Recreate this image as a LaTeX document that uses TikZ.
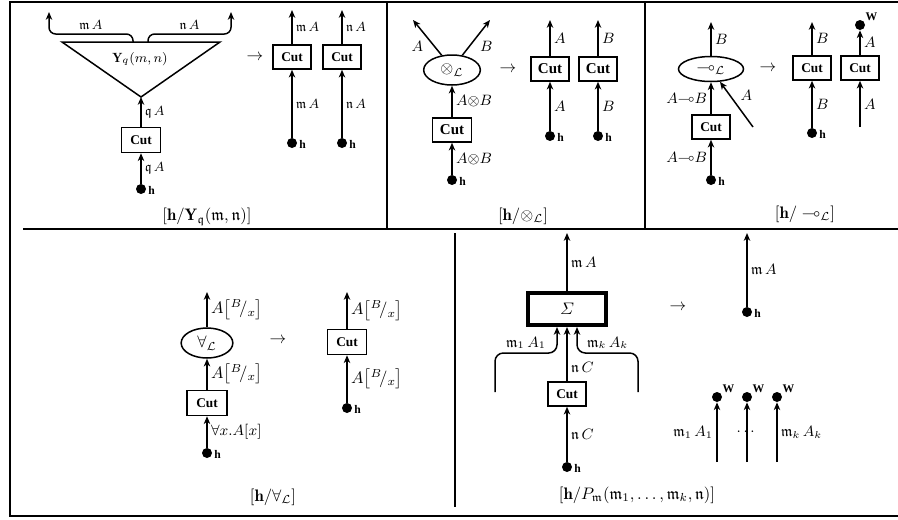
\documentclass[tikz,border=0pt]{standalone}
\usepackage{amsmath,amssymb}
\usepackage{fontspec}
\newfontfamily\cutfont{Liberation Serif}
\usetikzlibrary{positioning,arrows.meta,shapes.geometric,calc}
\tikzset{
  wire/.style={line width=0.9pt, -{Stealth[length=4.6pt,width=3.8pt,inset=1.3pt]}},
  frame/.style={line width=1.6pt},
  cutbox/.style={draw, line width=0.9pt, inner sep=0pt, minimum width=22.8pt, minimum height=14.4pt, font=\cutfont\bfseries\footnotesize},
  rulenode/.style={draw, ellipse, line width=0.9pt, inner sep=0pt},
  sumbox/.style={draw, line width=2.4pt, inner sep=0pt, minimum width=46.8pt, minimum height=19.2pt},
  hdot/.style={circle, fill=black, inner sep=0pt, minimum size=6pt,
    label={[font=\cutfont\bfseries\scriptsize, inner sep=1pt, yshift=-1pt]right:h}},
  wdot/.style={circle, fill=black, inner sep=0pt, minimum size=6pt,
    label={[font=\cutfont\bfseries\scriptsize, inner sep=0.5pt]35:W}},
  lab/.style={font=\small, inner sep=2pt},
  slab/.style={font=\footnotesize, inner sep=2pt},
  blab/.style={font=\normalsize, inner sep=2pt},
  capt/.style={font=\normalsize}
}

\begin{document}
\begin{tikzpicture}[x=0.6pt, y=-0.6pt]
  \useasboundingbox (0,0) rectangle (898,519);
  % frame and dividers
  \draw[frame] (900,2) -- (10,2) -- (10,516) -- (900,516);
  \draw[frame] (23,229) -- (900,229);
  \draw[frame] (387,2) -- (387,229);
  \draw[frame] (645,2) -- (645,229);
  \draw[frame] (455,233) -- (455,507);

  % [h/Y_q(m,n)]
  \coordinate (ytl) at (62,42);
  \coordinate (ytr) at (220,42);
  \coordinate (yapex) at (141,97);
  \coordinate (ybl) at (133,42);
  \coordinate (ybr) at (148,42);
  \coordinate (youtl) at (49,12);
  \coordinate (youtr) at (231,12);
  \draw[line width=0.9pt] (ytl) -- (ytr) -- (yapex) -- cycle;
  \node[font=\footnotesize] (ylab) at (140,59) {$\mathbf{Y}_q(m,n)$};
  \draw[wire, rounded corners=4pt] (ybl) -- ++(0,-8) -| node[slab, pos=0.25, above] {$\mathfrak{m}\,A$} (youtl);
  \draw[wire, rounded corners=4pt] (ybr) -- ++(0,-8) -| node[slab, pos=0.25, above] {$\mathfrak{n}\,A$} (youtr);
  \node[cutbox, minimum width=23.4pt, minimum height=15pt] (ycut) at (141,140) {Cut};
  \node[hdot] (yh) at (141,189) {};
  \draw[wire] (yh) -- node[slab, right] {$\mathfrak{q}\,A$} (ycut);
  \draw[wire] (ycut) -- node[slab, right] {$\mathfrak{q}\,A$} (yapex);
  \node (yto) at (255,57) {$\rightarrow$};
  \node[cutbox] (ycutm) at (292,57) {Cut};
  \node[cutbox] (ycutn) at (342,57) {Cut};
  \coordinate (youtm) at (292,10);
  \coordinate (youtn) at (342,10);
  \node[hdot] (yhm) at (292,143) {};
  \node[hdot] (yhn) at (342,143) {};
  \draw[wire] (ycutm) -- node[slab, right] {$\mathfrak{m}\,A$} (youtm);
  \draw[wire] (ycutn) -- node[slab, right] {$\mathfrak{n}\,A$} (youtn);
  \draw[wire] (yhm) -- node[slab, right] {$\mathfrak{m}\,A$} (ycutm);
  \draw[wire] (yhn) -- node[slab, right] {$\mathfrak{n}\,A$} (ycutn);
  \node[capt] (ycapt) at (207,217) {$[\mathbf{h}/\mathbf{Y}_{\mathfrak{q}}(\mathfrak{m},\mathfrak{n})]$};

  % [h/tensor_L]
  \node[rulenode, minimum width=34pt, minimum height=18pt] (tens) at (452,70) {$\otimes_{\mathcal{L}}$};
  \coordinate (touta) at (413,20);
  \coordinate (toutb) at (490,20);
  \draw[wire] (tens.125) -- node[lab, below left] {$A$} (touta);
  \draw[wire] (tens.55) -- node[lab, below right] {$B$} (toutb);
  \node[cutbox, minimum width=23.4pt, font=\cutfont\bfseries\small] (tcut) at (452,130) {Cut};
  \node[hdot] (th) at (452,180) {};
  \draw[wire] (th) -- node[lab, right] {$A{\otimes}B$} (tcut);
  \draw[wire] (tcut) -- node[lab, right] {$A{\otimes}B$} (tens);
  \node (tto) at (508,69) {$\rightarrow$};
  \node[cutbox, font=\cutfont\bfseries\small] (tcuta) at (550,69) {Cut};
  \node[cutbox, font=\cutfont\bfseries\small] (tcutb) at (598,69) {Cut};
  \coordinate (toutaa) at (550,20);
  \coordinate (toutbb) at (598,20);
  \node[hdot] (tha) at (550,136) {};
  \node[hdot] (thb) at (598,136) {};
  \draw[wire] (tcuta) -- node[lab, right] {$A$} (toutaa);
  \draw[wire] (tcutb) -- node[lab, right] {$B$} (toutbb);
  \draw[wire] (tha) -- node[lab, right] {$A$} (tcuta);
  \draw[wire] (thb) -- node[lab, right] {$B$} (tcutb);
  \node[capt] (tcapt) at (523,216) {$[\mathbf{h}/\otimes_{\mathcal{L}}]$};

  % [h/lolli_L]
  \node[rulenode, minimum width=39pt, minimum height=15pt] (lolli) at (711,69) {$\multimap_{\mathcal{L}}$};
  \coordinate (lout) at (711,22);
  \coordinate (lin) at (753,127);
  \draw[wire] (lolli) -- node[lab, right] {$B$} (lout);
  \node[cutbox] (lcut) at (711,127) {Cut};
  \node[hdot] (lh) at (711,180) {};
  \draw[wire] (lh) -- node[lab, left] {$A{\multimap}B$} (lcut);
  \draw[wire] (lcut) -- node[lab, left] {$A{\multimap}B$} (lolli);
  \draw[wire] (lin) -- node[lab, above right] {$A$} (lolli.-55);
  \node (lto) at (768,68) {$\rightarrow$};
  \node[cutbox] (lcutb) at (812,68) {Cut};
  \node[cutbox] (lcuta) at (860,68) {Cut};
  \coordinate (loutb) at (812,22);
  \node[hdot] (lhb) at (812,133) {};
  \node[wdot] (lw) at (860,25) {};
  \coordinate (lina) at (860,127);
  \draw[wire] (lcutb) -- node[lab, right] {$B$} (loutb);
  \draw[wire] (lhb) -- node[lab, right] {$B$} (lcutb);
  \draw[wire] (lcuta) -- node[lab, right] {$A$} (lw);
  \draw[wire] (lina) -- node[lab, right] {$A$} (lcuta);
  \node[capt] (lcapt) at (805,214) {$[\mathbf{h}/\multimap_{\mathcal{L}}]$};

  % [h/forall_L]
  \node[rulenode, minimum width=31pt, minimum height=18pt] (fa) at (207,343) {$\forall_{\mathcal{L}}$};
  \coordinate (faout) at (207,292);
  \draw[wire] (fa) -- node[blab, right] {$A\big[{}^{B}\!/{}_{x}\big]$} (faout);
  \node[cutbox, minimum width=24pt, minimum height=15pt] (facut) at (207,403) {Cut};
  \node[hdot] (fah) at (207,453) {};
  \draw[wire] (facut) -- node[blab, right] {$A\big[{}^{B}\!/{}_{x}\big]$} (fa);
  \draw[wire] (fah) -- node[lab, right] {$\forall x.A[x]$} (facut);
  \node (fato) at (278,340) {$\rightarrow$};
  \node[cutbox, minimum width=23.4pt, minimum height=15pt] (facutb) at (347,342) {Cut};
  \coordinate (faoutb) at (347,292);
  \node[hdot] (fahb) at (347,408) {};
  \draw[wire] (facutb) -- node[blab, right] {$A\big[{}^{B}\!/{}_{x}\big]$} (faoutb);
  \draw[wire] (fahb) -- node[blab, right] {$A\big[{}^{B}\!/{}_{x}\big]$} (facutb);
  \node[capt] (facapt) at (273,497) {$[\mathbf{h}/\forall_{\mathcal{L}}]$};

  % [h/P_m(m_1,...,m_k,n)]
  \node[sumbox] (sig) at (567,309) {$\varSigma$};
  \coordinate (sout) at (567,233);
  \draw[wire] (sig) -- node[lab, right] {$\mathfrak{m}\,A$} (sout);
  \coordinate (sinl) at (495,392);
  \coordinate (sinr) at (638,392);
  \coordinate (sturnl) at (557,353);
  \coordinate (sturnr) at (577,353);
  \draw[wire, rounded corners=5pt] (sinl) |- node[lab, pos=0.75, above] {$\mathfrak{m}_1\,A_1$} (sturnl) -- (sturnl |- sig.south);
  \draw[wire, rounded corners=5pt] (sinr) |- node[lab, pos=0.75, above] {$\mathfrak{m}_k\,A_k$} (sturnr) -- (sturnr |- sig.south);
  \node[cutbox] (scut) at (567,394) {Cut};
  \node[hdot] (sh) at (567,467) {};
  \draw[wire] (scut) -- node[lab, right, pos=0.25] {$\mathfrak{n}\,C$} (sig);
  \draw[wire] (sh) -- node[lab, right] {$\mathfrak{n}\,C$} (scut);
  \node (sto) at (678,307) {$\rightarrow$};
  \node[hdot] (shb) at (747,312) {};
  \coordinate (soutb) at (747,233);
  \draw[wire] (shb) -- node[lab, right] {$\mathfrak{m}\,A$} (soutb);
  \node[wdot] (sw1) at (717,397) {};
  \node[wdot] (sw2) at (747,397) {};
  \node[wdot] (sw3) at (777,397) {};
  \coordinate (sw1in) at (717,462);
  \coordinate (sw2in) at (747,462);
  \coordinate (sw3in) at (777,462);
  \draw[wire] (sw1in) -- node[lab, left] {$\mathfrak{m}_1\,A_1$} (sw1);
  \draw[wire] (sw2in) -- node[lab] {$\cdots$} (sw2);
  \draw[wire] (sw3in) -- node[lab, right] {$\mathfrak{m}_k\,A_k$} (sw3);
  \node[capt] (scapt) at (637,495) {$[\mathbf{h}/P_{\mathfrak{m}}(\mathfrak{m}_1,\ldots,\mathfrak{m}_k,\mathfrak{n})]$};
\end{tikzpicture}
\end{document}
